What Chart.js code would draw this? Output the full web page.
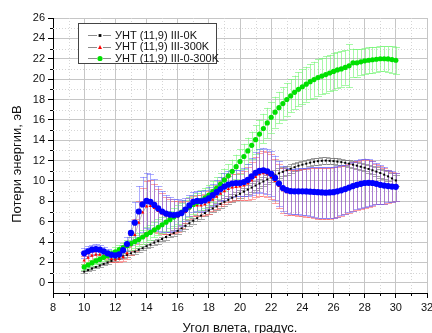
<!DOCTYPE html>
<html><head><meta charset="utf-8">
<script src="https://cdn.jsdelivr.net/npm/chart.js@4.4.1/dist/chart.umd.min.js"></script>
<style>html,body{margin:0;padding:0;background:#fff;overflow:hidden}</style>
</head><body>
<canvas id="c" width="432" height="333"></canvas>
<script>
// ---- data ----
const angles = [10,10.25,10.5,10.75,11,11.25,11.5,11.75,12,12.25,12.5,12.75,13,13.25,13.5,13.75,14,14.25,14.5,14.75,15,15.25,15.5,15.75,16,16.25,16.5,16.75,17,17.25,17.5,17.75,18,18.25,18.5,18.75,19,19.25,19.5,19.75,20,20.25,20.5,20.75,21,21.25,21.5,21.75,22,22.25,22.5,22.75,23,23.25,23.5,23.75,24,24.25,24.5,24.75,25,25.25,25.5,25.75,26,26.25,26.5,26.75,27,27.25,27.5,27.75,28,28.25,28.5,28.75,29,29.25,29.5,29.75,30];

const seriesNames = ['УНТ (11,9) III-0K','УНТ (11,9) III-300K','УНТ (11,9) III-0-300K','УНТ (11,9) III-0-300K*'];

const loss0K = [1.1,1.25,1.4,1.55,1.7,1.85,2.0,2.15, 2.3,2.45,2.6,2.75,2.9,3.05,3.25,3.4, 3.6,3.75,3.95,4.1,4.3,4.5,4.7,4.9, 5.1,5.35,5.6,5.85,6.1,6.35,6.6,6.85, 7.1,7.3,7.5,7.75,7.95,8.15,8.35,8.55, 8.75,8.95,9.15,9.35,9.55,9.75,9.95,10.15, 10.35,10.55,10.75,10.9,11.05,11.2,11.35,11.5, 11.6,11.7,11.8,11.88,11.94,11.98,12.0,11.98, 11.95,11.9,11.85,11.78,11.7,11.6,11.5,11.4, 11.3,11.18,11.05,10.92,10.78,10.62,10.45,10.25, 10.05];
const err0K = [0.1,0.1,0.12,0.12,0.14,0.14,0.15,0.15, 0.16,0.16,0.18,0.18,0.2,0.2,0.2,0.2, 0.22,0.22,0.22,0.24,0.24,0.25,0.25,0.26, 0.26,0.28,0.28,0.3,0.3,0.3,0.32,0.32, 0.33,0.34,0.35,0.36,0.37,0.38,0.39,0.4, 0.4,0.4,0.42,0.42,0.44,0.45,0.46,0.47, 0.48,0.48,0.48,0.46,0.45,0.44,0.42,0.4, 0.4,0.38,0.36,0.35,0.34,0.33,0.32,0.32, 0.32,0.32,0.32,0.32,0.33,0.34,0.35,0.36, 0.37,0.38,0.4,0.42,0.44,0.46,0.48,0.5, 0.5];

const loss300K = [2.2,2.45,2.65,2.75,2.75,2.65,2.5,2.35, 2.3,2.35,2.5,2.9,3.7,4.7,5.9,6.9, 7.5,7.55,7.35,7.05,6.8,6.6,6.5,6.45, 6.5,6.65,6.95,7.3,7.55,7.6,7.6,7.7, 7.9,8.15,8.45,8.75,9.0,9.2,9.35,9.4, 9.45,9.55,9.75,10.05,10.4,10.65,10.75,10.65, 10.4,10.0,9.5,9.1,8.9,8.85,8.85,8.85, 8.85,8.85,8.85,8.83,8.8,8.78,8.78,8.8, 8.85,8.92,9.02,9.15,9.3,9.45,9.58,9.68, 9.76,9.78,9.76,9.7,9.6,9.52,9.47,9.42, 9.4];
const err300K = [0.4,0.4,0.4,0.4,0.35,0.35,0.3,0.3, 0.3,0.3,0.4,0.6,1.0,1.6,2.1,2.4, 2.5,2.5,2.4,2.2,2.0,1.8,1.7,1.6, 1.5,1.3,1.1,1.0,1.0,1.0,1.0,1.0, 1.1,1.1,1.2,1.2,1.3,1.3,1.3,1.3, 1.3,1.4,1.6,1.8,2.0,2.1,2.2,2.2, 2.2,2.2,2.2,2.2,2.2,2.2,2.2,2.25, 2.3,2.35,2.4,2.45,2.5,2.5,2.5,2.5, 2.5,2.5,2.45,2.4,2.4,2.4,2.4,2.4, 2.4,2.3,2.2,2.0,1.9,1.8,1.6,1.5, 1.4];

const loss0to300K = [1.55,1.75,1.95,2.15,2.3,2.5,2.65,2.85, 3.05,3.25,3.45,3.65,3.85,4.05,4.25,4.5, 4.75,4.95,5.2,5.45,5.7,5.95,6.2,6.45, 6.7,6.95,7.2,7.45,7.7,7.9,8.1,8.35, 8.6,8.95,9.3,9.7,10.1,10.5,10.95,11.4, 11.9,12.4,12.95,13.5,14.05,14.6,15.15,15.7, 16.25,16.75,17.2,17.6,18.0,18.35,18.7,19.0, 19.25,19.5,19.75,19.95,20.15,20.3,20.45,20.6, 20.75,20.9,21.0,21.15,21.3,21.6,21.6,21.7, 21.8,21.85,21.9,21.95,22.0,22.0,21.98,21.92, 21.85];
const err0to300K = [0.3,0.3,0.3,0.32,0.34,0.36,0.38,0.4, 0.42,0.45,0.5,0.55,0.6,0.62,0.65,0.68, 0.7,0.72,0.75,0.78,0.8,0.82,0.85,0.88, 0.9,0.9,0.92,0.95,0.95,0.95,0.98,1.0, 1.0,1.02,1.05,1.08,1.1,1.12,1.15,1.18, 1.2,1.25,1.3,1.35,1.4,1.42,1.45,1.48, 1.5,1.52,1.55,1.58,1.6,1.62,1.65,1.68, 1.7,1.72,1.74,1.76,1.78,1.8,1.8,1.8, 1.8,1.78,1.75,1.7,2.1,1.4,1.35,1.3, 1.3,1.28,1.26,1.25,1.25,1.25,1.25,1.3, 1.35];

const lossBlue = [2.9,3.1,3.25,3.3,3.25,3.1,2.9,2.75, 2.7,2.8,3.2,3.8,4.9,5.9,7.0,7.7, 8.05,7.95,7.65,7.3,7.0,6.8,6.7,6.65, 6.7,6.85,7.2,7.6,7.95,8.05,8.0,8.1, 8.3,8.6,8.9,9.2,9.45,9.65,9.75,9.8, 9.8,9.9,10.1,10.45,10.8,11.0,11.05,10.95, 10.7,10.3,9.75,9.3,9.1,9.0,8.98,8.98, 8.98,8.97,8.95,8.92,8.9,8.87,8.85,8.87, 8.9,8.98,9.08,9.2,9.35,9.5,9.62,9.72, 9.8,9.82,9.8,9.72,9.62,9.55,9.5,9.45, 9.42];
const errBlue = [0.5,0.5,0.5,0.5,0.45,0.45,0.4,0.4, 0.4,0.4,0.5,0.7,1.2,2.0,2.5,2.7, 2.7,2.7,2.5,2.2,2.0,1.8,1.7,1.6, 1.5,1.3,1.1,1.0,1.0,1.0,1.0,1.0, 1.1,1.1,1.2,1.2,1.3,1.3,1.3,1.3, 1.3,1.4,1.6,1.8,2.0,2.1,2.2,2.2, 2.2,2.2,2.2,2.2,2.2,2.2,2.2,2.25, 2.3,2.35,2.4,2.45,2.5,2.5,2.5,2.5, 2.5,2.5,2.45,2.4,2.4,2.4,2.4,2.4, 2.4,2.3,2.2,2.0,1.9,1.8,1.6,1.5, 1.4];

const xTicks = [8,10,12,14,16,18,20,22,24,26,28,30,32];
const xMinor = [9,11,13,15,17,19,21,23,25,27,29,31];
const yTicks = [0,2,4,6,8,10,12,14,16,18,20,22,24,26];
const yMinor = [1,3,5,7,9,11,13,15,17,19,21,23,25];
const xTitle = 'Угол влета, градус.';
const yTitle = 'Потери энергии, эВ';

// ---- drawing ----
const FONT = '"Liberation Sans", Arial, sans-serif';
const pts = vals => angles.map((a, i) => ({x: a, y: vals[i]}));

function marker(ctx, style, r, color, x, y) {
  ctx.fillStyle = color;
  ctx.beginPath();
  if (style === 'rect') { ctx.rect(x - r, y - r, 2 * r, 2 * r); }
  else if (style === 'triangle') { ctx.moveTo(x, y - r * 1.2); ctx.lineTo(x + r, y + r * 0.8); ctx.lineTo(x - r, y + r * 0.8); ctx.closePath(); }
  else { ctx.arc(x, y, r, 0, Math.PI * 2); }
  ctx.fill();
}

const extras = {
  id: 'extras',
  beforeDatasetsDraw(chart) {
    const {ctx, chartArea: a, scales: {x, y}} = chart;
    ctx.save();
    ctx.lineWidth = 1;
    ctx.strokeStyle = '#d6d6d6';
    ctx.setLineDash([1, 2]);
    xMinor.forEach(v => { const p = Math.round(x.getPixelForValue(v)) + 0.5; ctx.beginPath(); ctx.moveTo(p, a.top); ctx.lineTo(p, a.bottom); ctx.stroke(); });
    yMinor.forEach(v => { const p = Math.round(y.getPixelForValue(v)) + 0.5; ctx.beginPath(); ctx.moveTo(a.left, p); ctx.lineTo(a.right, p); ctx.stroke(); });
    ctx.setLineDash([]);
    ctx.beginPath(); ctx.rect(a.left, a.top, a.right - a.left, a.bottom - a.top); ctx.clip();
    chart.data.datasets.forEach(ds => {
      ctx.strokeStyle = ds.errorColor;
      ds.data.forEach((p, i) => {
        const e = ds.errors[i];
        const px = Math.round(x.getPixelForValue(p.x)) + 0.5;
        const top = y.getPixelForValue(p.y + e), bot = y.getPixelForValue(p.y - e);
        ctx.beginPath();
        ctx.moveTo(px, top); ctx.lineTo(px, bot);
        ctx.moveTo(px - 3.5, Math.round(top) + 0.5); ctx.lineTo(px + 3.5, Math.round(top) + 0.5);
        ctx.moveTo(px - 3.5, Math.round(bot) + 0.5); ctx.lineTo(px + 3.5, Math.round(bot) + 0.5);
        ctx.stroke();
      });
    });
    ctx.restore();
  },
  afterDraw(chart) {
    const {ctx, chartArea: a, scales: {x, y}} = chart;
    ctx.save();
    // minor ticks
    ctx.strokeStyle = '#000'; ctx.lineWidth = 1;
    xMinor.forEach(v => { const p = Math.round(x.getPixelForValue(v)) + 0.5; ctx.beginPath(); ctx.moveTo(p, a.bottom); ctx.lineTo(p, a.bottom + 3); ctx.stroke(); });
    yMinor.forEach(v => { const p = Math.round(y.getPixelForValue(v)) + 0.5; ctx.beginPath(); ctx.moveTo(a.left, p); ctx.lineTo(a.left - 3, p); ctx.stroke(); });
    // legend
    const bx = 78.5, by = 23.5, bw = 138, bh = 40;
    ctx.fillStyle = '#fff'; ctx.fillRect(bx, by, bw, bh);
    ctx.strokeStyle = '#444'; ctx.strokeRect(bx, by, bw, bh);
    const rows = [35, 46.6, 58.2];
    ctx.font = '11px ' + FONT; ctx.textBaseline = 'middle'; ctx.textAlign = 'left';
    chart.data.datasets.slice(0, 3).forEach((ds, k) => {
      const ry = Math.round(rows[k]) + 0.5;
      ctx.strokeStyle = 'rgba(128,128,128,0.9)'; ctx.lineWidth = 1;
      ctx.beginPath(); ctx.moveTo(88, ry); ctx.lineTo(97, ry); ctx.moveTo(103, ry); ctx.lineTo(111, ry); ctx.stroke();
      marker(ctx, ds.pointStyle, ds.pointRadius, ds.pointBackgroundColor, 100, ry);
      ctx.fillStyle = '#111';
      ctx.fillText(ds.label, 115, rows[k] + 0.5);
    });
    // axis titles
    ctx.font = '13px ' + FONT; ctx.fillStyle = '#111'; ctx.textAlign = 'center'; ctx.textBaseline = 'middle';
    ctx.fillText(xTitle, (a.left + a.right) / 2, 328);
    ctx.translate(17, 164); ctx.rotate(-Math.PI / 2);
    ctx.fillText(yTitle, 0, 0);
    ctx.restore();
  }
};

const tickFont = {family: FONT, size: 11};
new Chart(document.getElementById('c'), {
  type: 'line',
  data: {datasets: [
    {label: seriesNames[0], data: pts(loss0K), errors: err0K, errorColor: 'rgba(110,110,110,0.6)',
     borderColor: 'rgba(120,120,120,0.8)', borderWidth: 0.7, pointStyle: 'rect', pointRadius: 1.4,
     pointBackgroundColor: '#000', pointBorderWidth: 0, order: 3},
    {label: seriesNames[1], data: pts(loss300K), errors: err300K, errorColor: 'rgba(255,90,90,0.55)',
     borderColor: 'rgba(140,140,140,0.8)', borderWidth: 0.7, pointStyle: 'triangle', pointRadius: 2,
     pointBackgroundColor: '#ff0000', pointBorderWidth: 0, order: 2},
    {label: seriesNames[2], data: pts(loss0to300K), errors: err0to300K, errorColor: 'rgba(110,245,110,0.6)',
     borderColor: 'rgba(140,140,140,0.8)', borderWidth: 0.7, pointStyle: 'circle', pointRadius: 2.6,
     pointBackgroundColor: '#00e000', pointBorderWidth: 0, order: 1},
    {label: seriesNames[3], data: pts(lossBlue), errors: errBlue, errorColor: 'rgba(90,90,255,0.5)',
     borderColor: 'rgba(140,140,140,0.8)', borderWidth: 0.7, pointStyle: 'circle', pointRadius: 3.1,
     pointBackgroundColor: '#0000ff', pointBorderWidth: 0, order: 0}
  ]},
  options: {
    responsive: false, animation: false, devicePixelRatio: 1,
    layout: {padding: {top: 18, right: 5, left: 0, bottom: 0}},
    plugins: {legend: {display: false}, tooltip: {enabled: false}},
    elements: {line: {tension: 0, fill: false}},
    scales: {
      x: {type: 'linear', min: 8, max: 32,
          afterBuildTicks: s => { s.ticks = xTicks.map(v => ({value: v})); },
          afterFit: s => { s.height = 40; s.paddingLeft = 0; s.paddingRight = 0; },
          grid: {color: '#c6c6c6', tickColor: '#000', tickLength: 5},
          border: {color: '#000', width: 1},
          ticks: {font: tickFont, color: '#111', padding: 3, maxRotation: 0, autoSkip: false}},
      y: {type: 'linear', min: -1, max: 26,
          afterBuildTicks: s => { s.ticks = yTicks.map(v => ({value: v})); },
          afterFit: s => { s.width = 53; s.paddingTop = 0; s.paddingBottom = 0; },
          grid: {color: '#c6c6c6', tickColor: '#000', tickLength: 5},
          border: {color: '#000', width: 1},
          ticks: {font: tickFont, color: '#111', padding: 3, autoSkip: false}}
    }
  },
  plugins: [extras]
});
</script>
</body></html>
